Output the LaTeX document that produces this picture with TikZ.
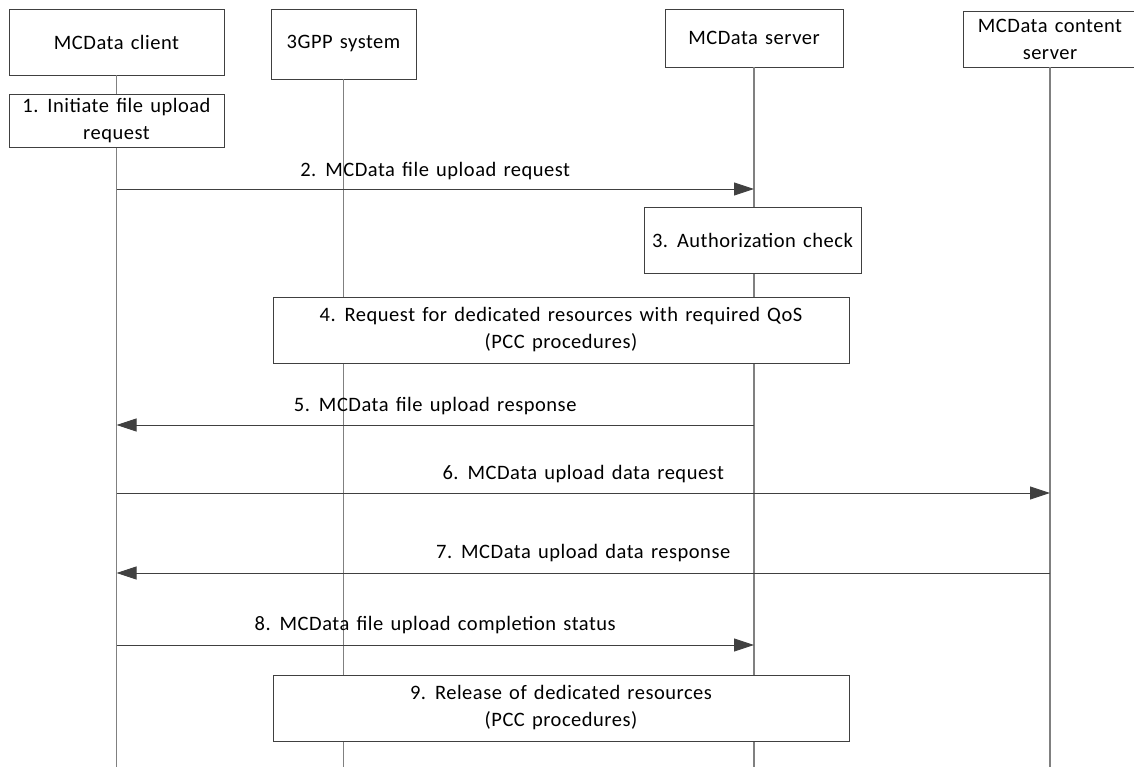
\documentclass[tikz,border=0pt]{standalone}
\usepackage{fontspec}
\setmainfont{Carlito}[LetterSpace=2.5,WordSpace=1.4]
\usetikzlibrary{arrows.meta}
\definecolor{lifec}{HTML}{808080}
\definecolor{linec}{HTML}{404040}
\begin{document}
\begin{tikzpicture}[x=1pt,y=-1pt,
  font=\fontsize{20.5}{27}\selectfont,
  box/.style={draw=linec,line width=0.9pt,fill=white,rectangle,inner sep=0pt,align=center},
  life/.style={draw=lifec,line width=1.8pt},
  msg/.style={draw=linec,line width=0.9pt,-{Triangle[length=20pt,width=13pt]}},
  lbl/.style={inner sep=0pt,align=center}]
\useasboundingbox (0,0) rectangle (1134,767);
% heads
\node[box,minimum width=215,minimum height=66] (cl) at (116.5,42) {MCData client};
\node[box,minimum width=145,minimum height=70] (gp) at (343.5,44) {3GPP system};
\node[box,minimum width=178,minimum height=58] (sv) at (754,38) {MCData server};
\node[box,minimum width=174,minimum height=56] (cs) at (1050,39) {MCData content\\server};
% lifeline ends
\coordinate (clE) at (116.5,767);
\coordinate (gpE) at (343.5,767);
\coordinate (svE) at (754,767);
\coordinate (csE) at (1050,767);
\draw[life] (cl.south) -- (clE);
\draw[life] (gp.south) -- (gpE);
\draw[life] (sv.south) -- (svE);
\draw[life] (cs.south) -- (csE);
% boxes
\node[box,minimum width=215,minimum height=53] (b1) at (116.5,120.5) {1. Initiate file upload\\request};
\node[box,minimum width=217,minimum height=66] (b3) at (752.5,240) {3. Authorization check};
\node[box,minimum width=576,minimum height=66] (b4) at (561,330) {4. Request for dedicated resources with required QoS\\(PCC procedures)};
\node[box,minimum width=576,minimum height=66] (b9) at (561,708) {9. Release of dedicated resources\\(PCC procedures)};
% messages
\draw[msg] (cl.south |- 0,189) -- (sv.south |- 0,189) node[lbl,pos=0.5,above=9pt] (m2) {2. MCData file upload request};
\draw[msg] (sv.south |- 0,425) -- (cl.south |- 0,425) node[lbl,pos=0.5,above=10pt] (m5) {5. MCData file upload response};
\draw[msg] (cl.south |- 0,493) -- (cs.south |- 0,493) node[lbl,pos=0.5,above=10pt] (m6) {6. MCData upload data request};
\draw[msg] (cs.south |- 0,573) -- (cl.south |- 0,573) node[lbl,pos=0.5,above=11pt] (m7) {7. MCData upload data response};
\draw[msg] (cl.south |- 0,645) -- (sv.south |- 0,645) node[lbl,pos=0.5,above=11pt] (m8) {8. MCData file upload completion status};
\end{tikzpicture}
\end{document}
